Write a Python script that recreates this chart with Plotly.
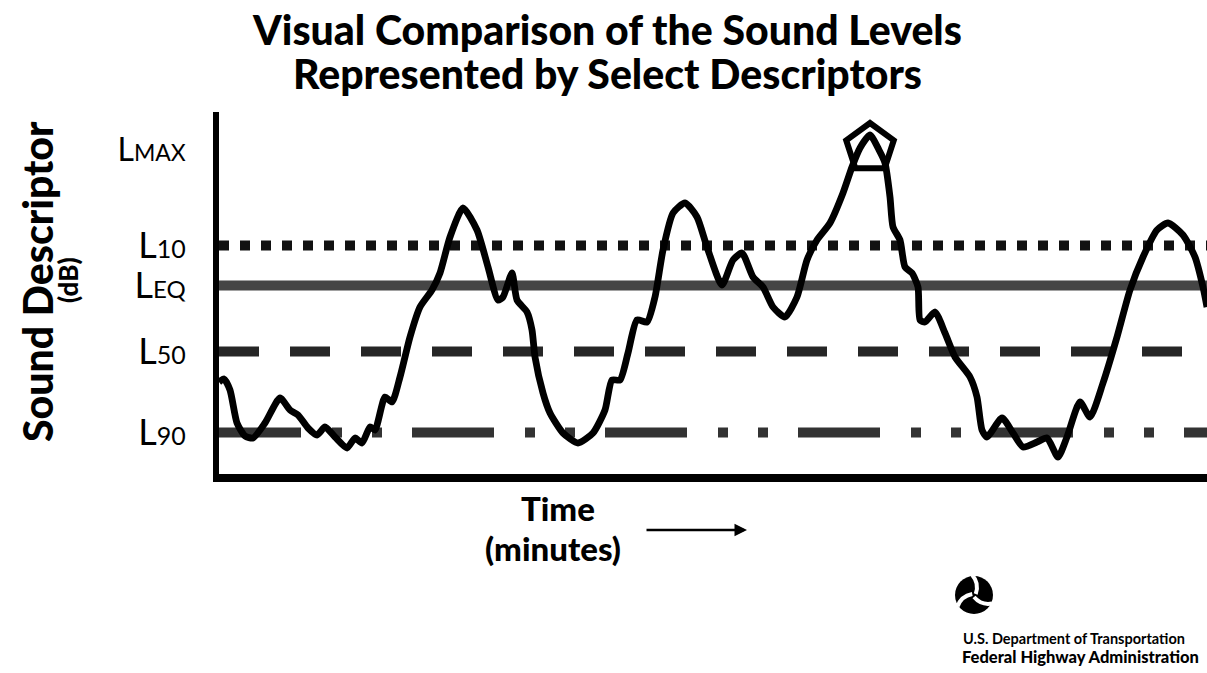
import math
import plotly.graph_objects as go

# ---------------- data ----------------
# time axis in minutes (relative), sound level in dB (relative)
time_min = [0.3, 0.8, 1.4, 2.1, 2.9, 3.7, 4.9, 6.4, 7.4, 8.2, 9.2, 10.1, 10.9, 11.9,
            13.1, 13.9, 14.6, 15.4, 15.9, 16.9, 17.6, 18.4, 19.4, 20.4, 21.6, 22.4,
            23.4, 24.7, 26.1, 27.2, 28.2, 28.7, 29.6, 30.1, 31.1, 31.6, 31.9, 32.7,
            33.4, 34.7, 36.2, 37.7, 38.9, 39.6, 40.4, 41.2, 42.1, 43.1, 43.9, 44.7,
            45.7, 46.9, 48.1, 49.1, 50.6, 51.7, 52.6, 53.7, 54.7, 55.7, 56.9, 58.1,
            59.1, 60.1, 61.4, 62.7, 63.6, 64.4, 65.4, 66.3, 66.9, 67.4, 67.7, 68.4,
            68.9, 69.6, 70.2, 70.4, 70.9, 71.9, 72.9, 73.9, 75.4, 76.1, 76.6, 77.1,
            78.6, 79.7, 80.7, 82.1, 83.1, 84.2, 85.1, 86.4, 87.4, 88.7, 90.1, 91.4,
            92.7, 94.1, 95.2, 96.7, 97.9, 98.7, 99.1]
level_db = [49.2, 49.8, 47.6, 41.0, 38.4, 38.0, 41.0, 46.0, 43.6, 42.6, 40.0, 38.6, 40.2, 38.2,
            36.0, 38.0, 37.0, 40.2, 39.6, 46.2, 45.2, 50.2, 58.2, 64.2, 67.6, 71.0,
            78.2, 84.0, 79.6, 72.2, 65.6, 66.2, 71.0, 65.6, 63.2, 59.6, 54.2, 47.0,
            43.0, 39.0, 37.0, 39.0, 43.6, 49.6, 49.6, 55.0, 61.6, 61.2, 66.2, 75.6,
            83.0, 85.0, 82.2, 76.2, 68.6, 73.6, 75.0, 70.2, 68.2, 64.2, 62.2, 66.2,
            73.6, 77.6, 81.0, 87.0, 92.2, 96.0, 98.6, 95.6, 93.0, 86.2, 80.2, 77.6,
            72.2, 71.0, 68.2, 61.6, 61.2, 63.2, 59.0, 54.2, 50.2, 46.2, 39.6, 38.2,
            42.0, 39.0, 36.2, 37.2, 38.0, 34.2, 38.2, 45.2, 42.2, 49.0, 58.2, 67.6,
            74.2, 79.6, 81.0, 78.6, 74.2, 68.2, 64.2]

descriptor_names = ["L90", "L50", "LEQ", "L10", "LMAX"]
descriptor_db = [39.1, 55.3, 68.5, 76.5, 96.0]
descriptor_ticktext = [
    "L<span style='font-size:25px'>90</span>",
    "L<span style='font-size:25px'>50</span>",
    "L<span style='font-size:24px'>EQ</span>",
    "L<span style='font-size:25px'>10</span>",
    "<span style='font-size:32px'>L</span><span style='font-size:23px'>MAX</span>",
]
lmax_time = 65.4

time_range = [0.3, 99.1]
db_range = [30.8, 103.2]

# ---------------- layout geometry ----------------
W, H = 1207, 673
ML, MR, MT, MB = 219, 0, 112, 199
PW, PH = W - ML - MR, H - MT - MB


def px_x(px):
    return (px - ML) / PW


def px_y(py):
    return (H - MB - py) / PH


level = dict(zip(descriptor_names, descriptor_db))

fig = go.Figure()

# L10 dotted
fig.add_trace(go.Scatter(x=time_range, y=[level["L10"]] * 2, mode="lines",
                         line=dict(color="#111111", width=10, dash="10px,11px"),
                         hoverinfo="skip", showlegend=False))
# LEQ solid
fig.add_trace(go.Scatter(x=time_range, y=[level["LEQ"]] * 2, mode="lines",
                         line=dict(color="#454545", width=10),
                         hoverinfo="skip", showlegend=False))
# L50 dashed
fig.add_trace(go.Scatter(x=time_range, y=[level["L50"]] * 2, mode="lines",
                         line=dict(color="#262626", width=10, dash="40px,31px"),
                         hoverinfo="skip", showlegend=False))
# L90 dash-dot-dot
fig.add_trace(go.Scatter(x=time_range, y=[level["L90"]] * 2, mode="lines",
                         line=dict(color="#333333", width=10,
                                   dash="82px,31px,10px,30px,10px,30px"),
                         hoverinfo="skip", showlegend=False))
# sound level over time
fig.add_trace(go.Scatter(x=time_min, y=level_db, mode="lines",
                         line=dict(color="black", width=6.8, shape="spline", smoothing=0.6),
                         showlegend=False))
# LMAX pentagon
fig.add_trace(go.Scatter(x=[lmax_time], y=[level["LMAX"]], mode="markers",
                         marker=dict(symbol="pentagon-open", size=50, color="black",
                                     line=dict(width=6, color="black")),
                         showlegend=False, cliponaxis=False))

FONT = "Lato"
ann = []
ann.append(dict(text="<span style='font-size:41px'>Visual Comparison of the Sound Levels</span>"
                     "<br><span style='font-size:41px'>Represented by Select Descriptors</span>",
                x=px_x(607), y=px_y(52),
                font=dict(family=FONT, size=34, color="black", weight=900)))
ann.append(dict(text="Sound Descriptor", x=px_x(37), y=px_y(282), textangle=-90,
                font=dict(family=FONT, size=41, color="black", weight=900)))
ann.append(dict(text="(dB)", x=px_x(68), y=px_y(280), textangle=-90,
                font=dict(family=FONT, size=26, color="black", weight=900)))
ann.append(dict(text="Time", x=px_x(558), y=px_y(508),
                font=dict(family=FONT, size=33, color="black", weight=900)))
ann.append(dict(text="(minutes)", x=px_x(553), y=px_y(548),
                font=dict(family=FONT, size=33, color="black", weight=900)))
ann.append(dict(text="", x=px_x(747), y=px_y(530), showarrow=True, ax=-102, ay=0,
                arrowhead=2, arrowsize=1, arrowwidth=2.5, arrowcolor="black"))
ann.append(dict(text="U.S. Department of Transportation", x=px_x(961), y=px_y(638),
                xanchor="left",
                font=dict(family=FONT, size=14.5, color="black", weight=700)))
ann.append(dict(text="Federal Highway Administration", x=px_x(960), y=px_y(657),
                xanchor="left",
                font=dict(family=FONT, size=16.5, color="black", weight=900)))
for a in ann:
    a.setdefault("xref", "paper")
    a.setdefault("yref", "paper")
    a.setdefault("showarrow", False)
    a.setdefault("xanchor", "center")
    a.setdefault("yanchor", "middle")

# DOT logo (decoration)
cx, cy, r = 974, 595, 19
shapes = [dict(type="circle", xref="paper", yref="paper",
               x0=px_x(cx - r), x1=px_x(cx + r), y0=px_y(cy + r), y1=px_y(cy - r),
               fillcolor="black", line=dict(color="black", width=0))]


def pol(rad, deg):
    a = math.radians(deg)
    return f"{px_x(cx + rad * math.cos(a)):.5f},{px_y(cy - rad * math.sin(a)):.5f}"


for k in range(3):
    t = 70 + 120 * k
    path = f"M{pol(2, t - 40)} Q{pol(13, t - 5)} {pol(20, t + 25)}"
    shapes.append(dict(type="path", xref="paper", yref="paper", path=path,
                       line=dict(color="white", width=4)))

fig.update_layout(
    width=W, height=H, autosize=False,
    margin=dict(l=ML, r=MR, t=MT, b=MB, pad=0),
    paper_bgcolor="white", plot_bgcolor="white",
    showlegend=False,
    annotations=ann,
    shapes=shapes,
    xaxis=dict(range=time_range, showline=True, linewidth=8, linecolor="black",
               showgrid=False, zeroline=False, showticklabels=False, ticks=""),
    yaxis=dict(range=db_range, showline=True, linewidth=6, linecolor="black",
               showgrid=False, zeroline=False, ticks="",
               tickvals=descriptor_db, ticktext=descriptor_ticktext,
               tickfont=dict(family=FONT, size=36, color="black"),
               ticklabelstandoff=20),
)

fig.write_html("out.html", config={"displayModeBar": False},
               post_script="document.body.style.margin='0';")
